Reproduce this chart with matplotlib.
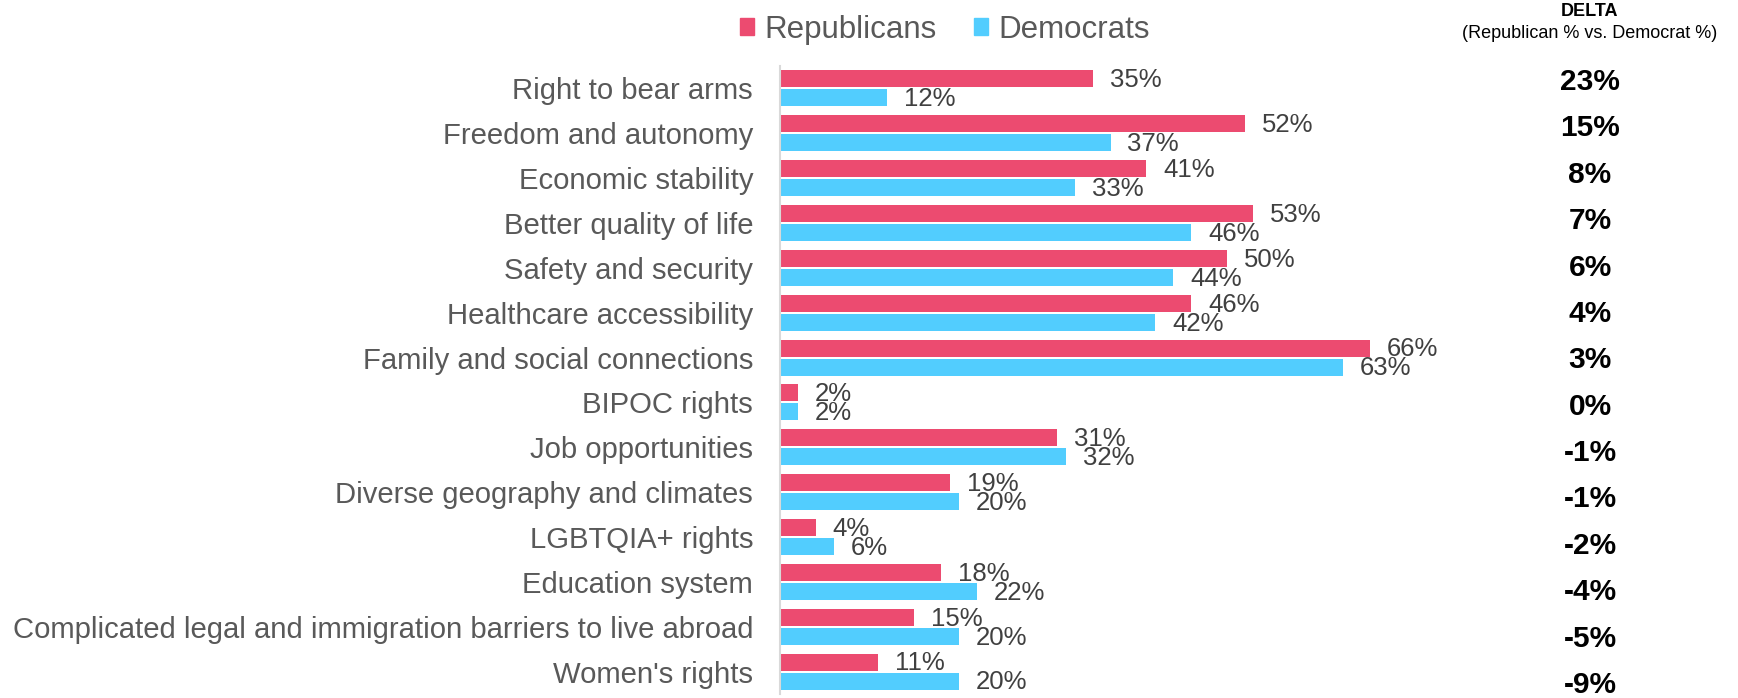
import matplotlib
matplotlib.use("Agg")
import matplotlib.pyplot as plt
from matplotlib.patches import Patch
import numpy as np

plt.rcParams['font.family'] = ['Liberation Sans', 'DejaVu Sans']

categories = ["Right to bear arms", "Freedom and autonomy", "Economic stability",
              "Better quality of life", "Safety and security", "Healthcare accessibility",
              "Family and social connections", "BIPOC rights", "Job opportunities",
              "Diverse geography and climates", "LGBTQIA+ rights", "Education system",
              "Complicated legal and immigration barriers to live abroad", "Women's rights"]
republicans = [35, 52, 41, 53, 50, 46, 66, 2, 31, 19, 4, 18, 15, 11]
democrats = [12, 37, 33, 46, 44, 42, 63, 2, 32, 20, 6, 22, 20, 20]
delta_labels = ["23%", "15%", "8%", "7%", "6%", "4%", "3%", "0%",
                "-1%", "-1%", "-2%", "-4%", "-5%", "-9%"]

RED = '#EC4B70'
BLUE = '#52CDFE'
W, H = 1738, 698

fig = plt.figure(figsize=(W / 100, H / 100), dpi=100)
ax = fig.add_axes([780 / W, 4 / H, 670 / W, 628 / H])

y = np.arange(len(categories))
bh = 0.38
off = 0.212
ax.barh(y - off, republicans, height=bh, color=RED, edgecolor='none')
ax.barh(y + off, democrats, height=bh, color=BLUE, edgecolor='none')

# value labels just past the bar ends
for yi, v in zip(y - off, republicans):
    ax.annotate(f'{v}%', (v, yi), xytext=(12.2, -1), textcoords='offset points',
                va='center', ha='left', fontsize=18.5, color='#404040')
for yi, v in zip(y + off, democrats):
    ax.annotate(f'{v}%', (v, yi), xytext=(12.2, -1), textcoords='offset points',
                va='center', ha='left', fontsize=18.5, color='#404040')

ax.set_xlim(0, 75)
ax.set_ylim(len(categories) - 0.5, -0.5)
ax.set_yticks(y)
ax.set_yticklabels(categories, fontsize=21.1, color='#595959')
ax.tick_params(axis='y', length=0, pad=19.4)
ax.set_xticks([])
for s in ['top', 'right', 'bottom']:
    ax.spines[s].set_visible(False)
ax.spines['left'].set_color('#D9D9D9')
ax.spines['left'].set_linewidth(1.5)

# legend
handles = [Patch(color=RED, label='Republicans'), Patch(color=BLUE, label='Democrats')]
fig.legend(handles=handles, loc='center', bbox_to_anchor=(945 / W, 1 - 30 / H), ncol=2,
           frameon=False, fontsize=22.5, labelcolor='#595959',
           handlelength=0.45, handleheight=0.45, handletextpad=0.32, columnspacing=1.2)

# delta column
cx = 1590 / W
fig.text(cx, 1 - 12 / H, 'DELTA', ha='center', va='center', fontsize=13, fontweight='bold', color='black')
fig.text(cx, 1 - 33 / H, '(Republican % vs. Democrat %)', ha='center', va='center', fontsize=13, color='black')
ys = np.linspace(82, 685, len(delta_labels))
for yy, lab in zip(ys, delta_labels):
    fig.text(cx, 1 - yy / H, lab, ha='center', va='center', fontsize=21.5, fontweight='bold', color='black')

fig.savefig('out.png', dpi=100, facecolor='white')
